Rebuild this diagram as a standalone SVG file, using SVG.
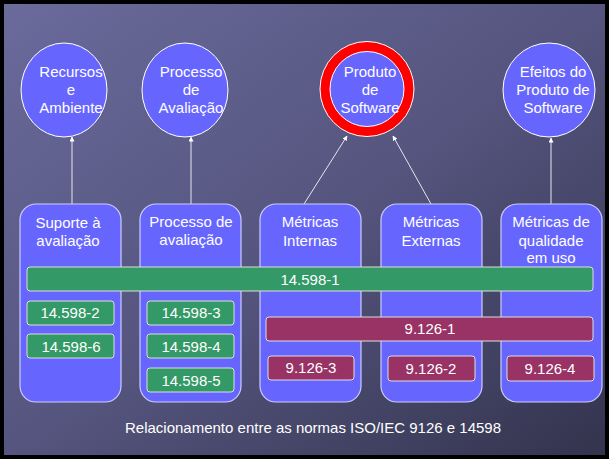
<svg xmlns="http://www.w3.org/2000/svg" width="609" height="459" viewBox="0 0 609 459">
<defs>
<linearGradient id="bg" x1="0" y1="0" x2="1" y2="1">
<stop offset="0" stop-color="#6b6b9c"/>
<stop offset="0.5" stop-color="#55557f"/>
<stop offset="1" stop-color="#33334d"/>
</linearGradient>
<marker id="ah" viewBox="0 0 10 10" refX="9" refY="5" markerWidth="5" markerHeight="5" orient="auto">
<path d="M0,0 L10,5 L0,10 z" fill="#ffffff"/>
</marker>
<style>
text{font-family:"Liberation Sans",Arial,sans-serif;font-size:15px;fill:#ffffff;text-anchor:middle}
.circ{fill:#6666ff;stroke:#ffffff;stroke-width:1}
.col{fill:#6666ff;stroke:#ccccff;stroke-width:1.2}
.g{fill:#339966;stroke:#dddddd;stroke-width:1}
.m{fill:#993366;stroke:#dddddd;stroke-width:1}
.conn{stroke:#e6e6f0;stroke-width:1;fill:none;marker-end:url(#ah)}
</style>
</defs>
<rect x="0" y="0" width="609" height="459" fill="url(#bg)"/>
<rect x="0" y="0" width="609" height="459" fill="none" stroke="#000000" stroke-width="8"/>

<g id="connectors">
<line class="conn" x1="72" y1="204" x2="72" y2="137"/>
<line class="conn" x1="191" y1="204" x2="191" y2="137"/>
<line class="conn" x1="304" y1="204" x2="347" y2="136"/>
<line class="conn" x1="431" y1="204" x2="393" y2="136"/>
<line class="conn" x1="551" y1="204" x2="551" y2="138"/>
</g>

<g id="recursos">
<ellipse class="circ" cx="64" cy="90" rx="43" ry="47"/>
<text x="71" y="77">Recursos</text>
<text x="71" y="95">e</text>
<text x="71" y="113">Ambiente</text>
</g>
<g id="processo">
<ellipse class="circ" cx="185" cy="90" rx="43" ry="47"/>
<text x="191" y="77">Processo</text>
<text x="191" y="95">de</text>
<text x="191" y="113">Avaliação</text>
</g>
<g id="produto">
<ellipse cx="367" cy="89" rx="47" ry="47.5" fill="#ff0000" stroke="#ffffff" stroke-width="1"/>
<ellipse class="circ" cx="367" cy="89" rx="37" ry="37.5"/>
<text x="370" y="77">Produto</text>
<text x="370" y="95">de</text>
<text x="370" y="113">Software</text>
</g>
<g id="efeitos">
<ellipse class="circ" cx="549" cy="90" rx="46" ry="47"/>
<text x="553" y="77">Efeitos do</text>
<text x="553" y="95">Produto de</text>
<text x="553" y="113">Software</text>
</g>

<g id="suporte">
<rect class="col" x="20" y="204" width="101" height="198" rx="16"/>
<text x="68" y="228">Suporte à</text>
<text x="68" y="246">avaliação</text>
</g>
<g id="processo-aval">
<rect class="col" x="140" y="204" width="101" height="198" rx="16"/>
<text x="191" y="227">Processo de</text>
<text x="191" y="245">avaliação</text>
</g>
<g id="internas">
<rect class="col" x="260" y="204" width="101" height="198" rx="16"/>
<text x="310" y="227">Métricas</text>
<text x="310" y="246">Internas</text>
</g>
<g id="externas">
<rect class="col" x="381" y="204" width="101" height="198" rx="16"/>
<text x="431" y="227">Métricas</text>
<text x="431" y="246">Externas</text>
</g>
<g id="qualidade">
<rect class="col" x="501" y="204" width="101" height="198" rx="16"/>
<text x="551" y="227">Métricas de</text>
<text x="551" y="246">qualidade</text>
<text x="551" y="263">em uso</text>
</g>

<g id="n14598-1">
<rect class="g" x="27" y="267" width="566" height="24" rx="3"/>
<text x="310" y="285">14.598-1</text>
</g>
<g id="n14598-2">
<rect class="g" x="27" y="301" width="87" height="24" rx="3"/>
<text x="70" y="318">14.598-2</text>
</g>
<g id="n14598-6">
<rect class="g" x="27" y="334" width="87" height="24" rx="3"/>
<text x="71" y="352">14.598-6</text>
</g>
<g id="n14598-3">
<rect class="g" x="147" y="301" width="87" height="24" rx="3"/>
<text x="191" y="318">14.598-3</text>
</g>
<g id="n14598-4">
<rect class="g" x="147" y="334" width="87" height="24" rx="3"/>
<text x="191" y="352">14.598-4</text>
</g>
<g id="n14598-5">
<rect class="g" x="147" y="368" width="87" height="24" rx="3"/>
<text x="191" y="386">14.598-5</text>
</g>
<g id="n9126-1">
<rect class="m" x="266" y="317" width="327" height="24" rx="3"/>
<text x="430" y="334">9.126-1</text>
</g>
<g id="n9126-3">
<rect class="m" x="268" y="356" width="86" height="24" rx="3"/>
<text x="311" y="373">9.126-3</text>
</g>
<g id="n9126-2">
<rect class="m" x="388" y="356" width="87" height="25" rx="3"/>
<text x="431" y="374">9.126-2</text>
</g>
<g id="n9126-4">
<rect class="m" x="507" y="356" width="87" height="25" rx="3"/>
<text x="550" y="374">9.126-4</text>
</g>

<text x="313" y="433">Relacionamento entre as normas ISO/IEC 9126 e 14598</text>
</svg>
